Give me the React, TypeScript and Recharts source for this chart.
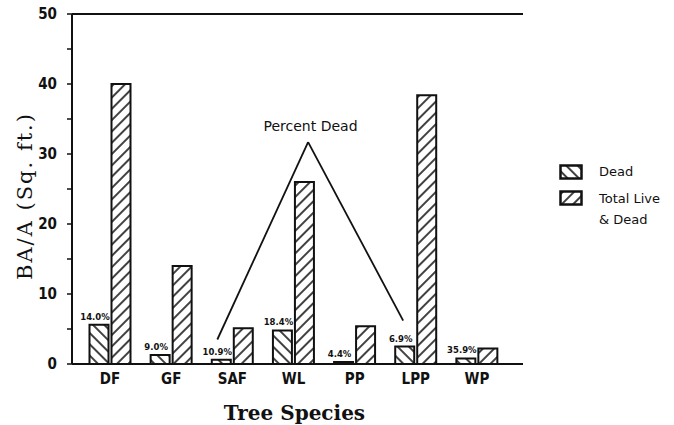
import { Bar, BarChart, LabelList, ReferenceDot, ReferenceLine, XAxis, YAxis } from "recharts"

const species = ["DF", "GF", "SAF", "WL", "PP", "LPP", "WP"]
const deadBA = [5.6, 1.3, 0.6, 4.8, 0.3, 2.5, 0.8]
const totalBA = [40, 14, 5.1, 26, 5.4, 38.4, 2.2]
const pctDead = ["14.0%", "9.0%", "10.9%", "18.4%", "4.4%", "6.9%", "35.9%"]
const yTicks = [0, 5, 10, 15, 20, 25, 30, 35, 40, 45, 50]

// "Percent Dead" callout, on a hidden numeric x axis (category index 0..6)
const calloutLeft = { x: 1.75, y: 3.5 }
const calloutApex = { x: 3.23, y: 31.7 }
const calloutRight = { x: 4.78, y: 6.2 }
const calloutText = { x: 3.27, y: 34 }

const data = species.map((name, i) => ({
  name,
  dead: deadBA[i],
  total: totalBA[i],
  pct: pctDead[i],
}))

const INK = "#111"
const TICK_FONT = '"Liberation Sans Narrow", "DejaVu Sans Condensed", sans-serif'
const SERIF = '"DejaVu Serif", serif'
const LABEL_FONT = '"DejaVu Sans", sans-serif'

function Hatch({ id, angle }: { id: string; angle: number }) {
  return (
    <pattern id={id} patternUnits="userSpaceOnUse" width={8} height={8} patternTransform={`rotate(${angle})`}>
      <rect width={8} height={8} fill="#fff" />
      <line x1={4} y1={0} x2={4} y2={8} stroke={INK} strokeWidth={1.6} />
    </pattern>
  )
}

const YTick = ({ x, y, payload }: any) =>
  payload.value % 10 === 0 ? (
    <text x={x} y={y} dy={5} textAnchor="end" fontFamily={TICK_FONT} fontWeight="bold" fontSize={15} fill={INK}>
      {payload.value}
    </text>
  ) : (
    <g />
  )

const XTick = ({ x, y, payload }: any) => (
  <text x={x} y={y} dy={12} textAnchor="middle" fontFamily={TICK_FONT} fontWeight="bold" fontSize={15} fill={INK}>
    {payload.value}
  </text>
)

const PctLabel = ({ x, y, width, value }: any) => (
  <text x={x + width / 2 - 4} y={y - 5} textAnchor="middle" fontFamily={LABEL_FONT} fontWeight="bold" fontSize={8.5} fill={INK}>
    {value}
  </text>
)

const YTitle = ({ viewBox }: any) => {
  const cx = 25
  const cy = viewBox.y + viewBox.height / 2 + 7
  return (
    <text
      x={cx}
      y={cy}
      transform={`rotate(-90 ${cx} ${cy})`}
      textAnchor="middle"
      dominantBaseline="central"
      fontFamily={SERIF}
      fontSize={21}
      letterSpacing={2}
      fill={INK}
    >
      BA/A (Sq. ft.)
    </text>
  )
}

const XTitle = ({ viewBox }: any) => (
  <text x={viewBox.x + viewBox.width / 2 - 3} y={420} textAnchor="middle" fontFamily={SERIF} fontWeight="bold" fontSize={20} fill={INK}>
    Tree Species
  </text>
)

function Swatch({ angle }: { angle: number }) {
  const id = `lg${angle}`
  return (
    <svg width={24} height={16} style={{ display: "block" }}>
      <defs>
        <Hatch id={id} angle={angle} />
      </defs>
      <rect x={1.5} y={1.5} width={21} height={13} fill={`url(#${id})`} stroke={INK} strokeWidth={2.5} />
    </svg>
  )
}

export default function App() {
  return (
    <div style={{ position: "absolute", left: 0, top: 0, width: 674, height: 425, background: "#fff" }}>
      <BarChart
        width={674}
        height={425}
        data={data}
        margin={{ top: 14, right: 151, left: 32, bottom: 31 }}
        barSize={19}
        barGap={3}
      >
        <defs>
          <Hatch id="hatchDead" angle={-45} />
          <Hatch id="hatchTotal" angle={45} />
        </defs>
        <XAxis
          dataKey="name"
          height={30}
          padding={{ left: 7.5, right: 15.5 }}
          axisLine={{ stroke: INK, strokeWidth: 2 }}
          tickLine={false}
          tick={<XTick />}
          label={<XTitle />}
        />
        <XAxis xAxisId="num" type="number" domain={[0, 6]} allowDataOverflow hide padding={{ left: 38, right: 45 }} />
        <YAxis
          domain={[0, 50]}
          ticks={yTicks}
          interval={0}
          width={40}
          tickSize={5}
          tickMargin={10}
          axisLine={{ stroke: INK, strokeWidth: 2 }}
          tickLine={{ stroke: INK, strokeWidth: 1.5 }}
          tick={<YTick />}
          label={<YTitle />}
        />
        <YAxis yAxisId="frame" orientation="right" domain={[0, 50]} width={0} tick={false} tickLine={false} axisLine={{ stroke: INK, strokeWidth: 2 }} />
        <ReferenceLine y={50} stroke={INK} strokeWidth={2} />
        <Bar dataKey="dead" fill="url(#hatchDead)" stroke={INK} strokeWidth={2} isAnimationActive={false}>
          <LabelList dataKey="pct" content={<PctLabel />} />
        </Bar>
        <Bar dataKey="total" fill="url(#hatchTotal)" stroke={INK} strokeWidth={2} isAnimationActive={false} />
        <ReferenceLine xAxisId="num" segment={[calloutLeft, calloutApex]} stroke={INK} strokeWidth={1.8} />
        <ReferenceLine xAxisId="num" segment={[calloutApex, calloutRight]} stroke={INK} strokeWidth={1.8} />
        <ReferenceDot
          xAxisId="num"
          x={calloutText.x}
          y={calloutText.y}
          r={0}
          fill="none"
          stroke="none"
          label={{ value: "Percent Dead", position: "center", fontFamily: LABEL_FONT, fontSize: 14, fill: INK }}
        />
      </BarChart>
      <div
        style={{
          position: "absolute",
          left: 559,
          top: 161,
          fontFamily: LABEL_FONT,
          fontSize: 13,
          color: INK,
          lineHeight: "21px",
        }}
      >
        <div style={{ display: "flex", alignItems: "center", gap: 16 }}>
          <Swatch angle={-45} />
          <span>Dead</span>
        </div>
        <div style={{ display: "flex", alignItems: "flex-start", gap: 16, marginTop: 6 }}>
          <div style={{ paddingTop: 2 }}>
            <Swatch angle={45} />
          </div>
          <span>
            Total Live
            <br />& Dead
          </span>
        </div>
      </div>
    </div>
  )
}
